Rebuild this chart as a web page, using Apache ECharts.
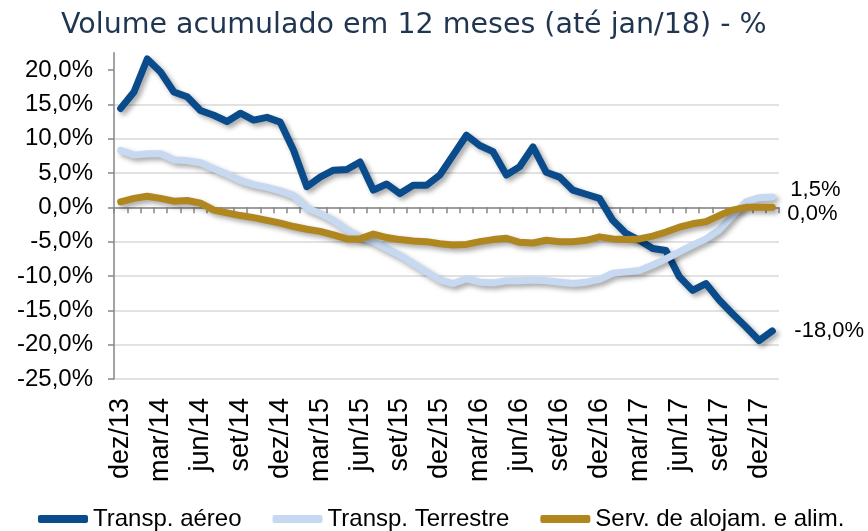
<!DOCTYPE html>
<html>
<head>
<meta charset="utf-8">
<script src="https://cdn.jsdelivr.net/npm/echarts@6/dist/echarts.min.js"></script>
<style>
  html, body { margin: 0; padding: 0; background: #fff; }
  #chart { width: 868px; height: 531px; }
</style>
</head>
<body>
<div id="chart"></div>
<script>
const months = [
  'dez/13',
  'jan/14', 'fev/14', 'mar/14', 'abr/14', 'mai/14', 'jun/14', 'jul/14', 'ago/14', 'set/14', 'out/14', 'nov/14', 'dez/14',
  'jan/15', 'fev/15', 'mar/15', 'abr/15', 'mai/15', 'jun/15', 'jul/15', 'ago/15', 'set/15', 'out/15', 'nov/15', 'dez/15',
  'jan/16', 'fev/16', 'mar/16', 'abr/16', 'mai/16', 'jun/16', 'jul/16', 'ago/16', 'set/16', 'out/16', 'nov/16', 'dez/16',
  'jan/17', 'fev/17', 'mar/17', 'abr/17', 'mai/17', 'jun/17', 'jul/17', 'ago/17', 'set/17', 'out/17', 'nov/17', 'dez/17',
  'jan/18'
]

const aereo = [
  14.4,
  16.8, 21.6, 19.7, 16.8, 16.1, 14.1, 13.4, 12.5, 13.7, 12.7, 13.1, 12.4,
  8.3, 3.0, 4.4, 5.4, 5.5, 6.6, 2.5, 3.4, 2.0, 3.2, 3.2, 4.7,
  7.6, 10.5, 9.0, 8.1, 4.7, 5.9, 8.8, 5.1, 4.4, 2.5, 1.9, 1.3,
  -1.9, -3.8, -4.8, -6.0, -6.3, -10.1, -12.1, -11.1, -13.5, -15.5, -17.4, -19.4,
  -18.0
]

const terrestre = [
  8.3,
  7.6, 7.8, 7.8, 6.9, 6.8, 6.5, 5.6, 4.8, 3.9, 3.3, 2.9, 2.4,
  1.7, -0.1, -0.9, -1.9, -3.3, -4.3, -5.0, -6.0, -7.0, -8.2, -9.4, -10.6,
  -11.1, -10.4, -10.9, -11.0, -10.7, -10.7, -10.6, -10.7, -10.9, -11.1, -10.9, -10.5,
  -9.6, -9.4, -9.2, -8.4, -7.5, -6.5, -5.5, -4.6, -3.3, -1.2, 0.8, 1.4,
  1.5
]

const alojamento = [
  0.8,
  1.3, 1.6, 1.3, 0.9, 1.0, 0.6, -0.4, -0.8, -1.2, -1.5, -1.9, -2.3,
  -2.8, -3.2, -3.5, -4.0, -4.6, -4.6, -3.9, -4.4, -4.7, -4.9, -5.0, -5.3,
  -5.5, -5.4, -5.0, -4.7, -4.5, -5.1, -5.2, -4.8, -5.0, -5.0, -4.8, -4.3,
  -4.6, -4.7, -4.6, -4.2, -3.6, -2.9, -2.4, -2.1, -1.2, -0.4, 0.0, 0.0,
  0.0
]

const yTicks = [-25, -20, -15, -10, -5, 0, 5, 10, 15, 20]

const fmtPct = v => v.toFixed(1).replace('.', ',') + '%'

const FONT = "'Liberation Sans', Arial, sans-serif"

const chart = echarts.init(document.getElementById('chart'), null, { renderer: 'canvas' })

const shadow = {
  shadowColor: 'rgba(0, 0, 0, 0.35)',
  shadowBlur: 5,
  shadowOffsetX: 3,
  shadowOffsetY: 3
}

function lineSeries(name, data, color, labelOffset) {
  return {
    name: name,
    type: 'line',
    data: data,
    symbol: 'none',
    lineStyle: Object.assign({ color: color, width: 7, cap: 'round', join: 'round' }, shadow),
    itemStyle: { color: color },
    endLabel: {
      show: true,
      formatter: p => fmtPct(p.value),
      fontFamily: FONT,
      fontSize: 22,
      color: '#000',
      offset: labelOffset
    },
    z: 3
  }
}

const option = {
  animation: false,
  title: {
    text: 'Volume acumulado em 12 meses (até jan/18) - %',
    left: 56,
    top: 6,
    textStyle: {
      fontFamily: "'DejaVu Sans', sans-serif",
      fontWeight: 'normal',
      fontSize: 28.5,
      color: '#1f3550'
    }
  },
  grid: {
    left: 114,
    right: 89,
    top: 52.8,
    bottom: 152
  },
  legend: {
    left: 33,
    bottom: -5,
    itemWidth: 50,
    itemHeight: 8,
    itemGap: 31,
    icon: 'roundRect',
    textStyle: {
      fontFamily: FONT,
      fontSize: 24,
      color: '#000'
    },
    data: ['Transp. aéreo', 'Transp. Terrestre', 'Serv. de alojam. e alim.']
  },
  xAxis: [{
    type: 'category',
    data: months,
    boundaryGap: true,
    position: 'bottom',
    axisLine: {
      onZero: true,
      lineStyle: { color: '#868686', width: 1.5 }
    },
    axisTick: {
      show: true,
      interval: 0,
      length: 6,
      lineStyle: { color: '#868686', width: 1.5 }
    },
    axisLabel: { show: false },
    splitLine: { show: false }
  }, {
    type: 'category',
    data: months,
    boundaryGap: true,
    position: 'bottom',
    axisLine: { show: false, onZero: false },
    axisTick: { show: false },
    axisLabel: {
      interval: 2,
      rotate: 90,
      margin: 19,
      fontFamily: FONT,
      fontSize: 27,
      color: '#000'
    },
    splitLine: { show: false }
  }],
  yAxis: {
    type: 'value',
    min: -25,
    max: 22.5,
    interval: 5,
    axisLine: {
      show: true,
      lineStyle: { color: '#868686', width: 1.5 }
    },
    axisTick: {
      show: true,
      length: 6,
      customValues: yTicks,
      lineStyle: { color: '#868686', width: 1.5 }
    },
    axisLabel: {
      customValues: yTicks,
      formatter: v => fmtPct(v),
      margin: 21,
      fontFamily: FONT,
      fontSize: 24,
      color: '#000'
    },
    splitLine: {
      show: true,
      showMaxLine: false,
      lineStyle: { color: '#d9d9d9', width: 1.5 }
    }
  },
  series: [
    lineSeries('Transp. aéreo', aereo, '#0a4c8b', [14, 0]),
    lineSeries('Transp. Terrestre', terrestre, '#c6d9f1', [10, -7]),
    lineSeries('Serv. de alojam. e alim.', alojamento, '#b0861e', [7, 7])
  ]
}

chart.setOption(option)
</script>
</body>
</html>
